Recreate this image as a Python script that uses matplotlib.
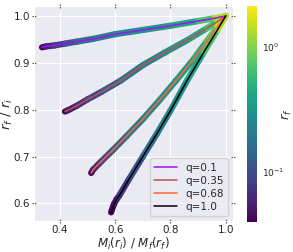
import numpy as np
import matplotlib
matplotlib.use("Agg")
import matplotlib.pyplot as plt
import seaborn as sns
from matplotlib.collections import LineCollection
from matplotlib.colors import LogNorm

sns.set_style("darkgrid")

# values: (M_i/M_f, r_f/r_i, r_f) along each curve
q_labels = ["q=0.1", "q=0.35", "q=0.68", "q=1.0"]
line_colors = ["#a010f0", "#c0504d", "#ff6533", "black"]

x_q01 = [0.335, 0.35, 0.38, 0.42, 0.46, 0.52, 0.60, 0.70, 0.80, 0.90, 0.96, 1.0]
y_q01 = [0.933, 0.935, 0.937, 0.941, 0.945, 0.951, 0.961, 0.970, 0.979, 0.989, 0.995, 1.0]
rf_q01 = [0.04, 0.05, 0.07, 0.1, 0.15, 0.2, 0.25, 0.3, 0.35, 0.5, 0.9, 2.0]

x_q035 = [0.418, 0.43, 0.46, 0.50, 0.55, 0.62, 0.70, 0.78, 0.86, 0.93, 0.97, 1.0]
y_q035 = [0.796, 0.799, 0.808, 0.822, 0.838, 0.862, 0.895, 0.922, 0.948, 0.973, 0.988, 1.0]
rf_q035 = [0.04, 0.05, 0.06, 0.08, 0.11, 0.16, 0.22, 0.28, 0.34, 0.5, 0.9, 2.0]

x_q068 = [0.513, 0.52, 0.55, 0.59, 0.64, 0.70, 0.76, 0.82, 0.88, 0.93, 0.97, 1.0]
y_q068 = [0.665, 0.672, 0.690, 0.713, 0.743, 0.780, 0.820, 0.862, 0.905, 0.945, 0.977, 1.0]
rf_q068 = [0.04, 0.05, 0.08, 0.12, 0.17, 0.22, 0.27, 0.32, 0.38, 0.55, 0.9, 2.0]

x_q10 = [0.585, 0.595, 0.605, 0.615, 0.65, 0.70, 0.75, 0.80, 0.86, 0.92, 0.97, 1.0]
y_q10 = [0.581, 0.598, 0.609, 0.617, 0.652, 0.700, 0.748, 0.798, 0.862, 0.922, 0.970, 1.0]
rf_q10 = [0.04, 0.045, 0.05, 0.06, 0.09, 0.13, 0.19, 0.25, 0.32, 0.5, 0.9, 2.0]

xs = [x_q01, x_q035, x_q068, x_q10]
ys = [y_q01, y_q035, y_q068, y_q10]
rfs = [rf_q01, rf_q035, rf_q068, rf_q10]

fig = plt.figure(figsize=(2.93, 2.52), dpi=100)
ax = fig.add_axes([0.116, 0.122, 0.679, 0.854])
cax = fig.add_axes([0.843, 0.118, 0.034, 0.858])

norm = LogNorm(vmin=0.04, vmax=2.1)
for x, y, rf, c, lab in zip(xs, ys, rfs, line_colors, q_labels):
    pts = np.column_stack([x, y])
    segs = np.stack([pts[:-1], pts[1:]], axis=1)
    rf = np.array(rf)
    lc = LineCollection(segs, cmap="viridis", norm=norm, linewidths=4.5,
                        capstyle="round", joinstyle="round")
    lc.set_array(np.sqrt(rf[:-1] * rf[1:]))
    ax.add_collection(lc)
    ax.plot(x, y, color=c, lw=1.1, label=lab, zorder=3)

ax.set_xlim(0.306, 1.026)
ax.set_ylim(0.562, 1.021)
ax.set_xticks([0.4, 0.6, 0.8, 1.0])
ax.set_yticks([0.6, 0.7, 0.8, 0.9, 1.0])
ax.tick_params(labelsize=7.5, length=3, color="#555555", top=True, right=True,
               bottom=True, left=True, direction="inout", pad=1.5)
ax.set_xlabel(r"$M_i(r_i)\ /\ M_f(r_f)$", fontsize=8.5, labelpad=0)
ax.set_ylabel(r"$r_f\ /\ r_i$", fontsize=9.5, labelpad=-1)
ax.legend(loc="lower right", fontsize=7.5, frameon=True, handlelength=2.2,
          borderpad=0.4, labelspacing=0.3)

sm = plt.cm.ScalarMappable(norm=norm, cmap="viridis")
cb = fig.colorbar(sm, cax=cax)
cb.outline.set_visible(False)
cb.ax.tick_params(labelsize=6.5, length=0)
cb.ax.minorticks_off()
cb.set_label(r"$r_f$", fontsize=9, labelpad=-3)

fig.savefig("out.png", dpi=100)
